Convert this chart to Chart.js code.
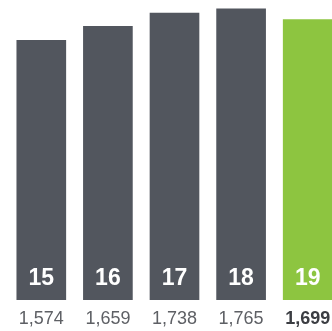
<!DOCTYPE html>
<html>
<head>
<meta charset="utf-8">
<script src="https://cdn.jsdelivr.net/npm/chart.js@4"></script>
<style>
  html, body { margin: 0; padding: 0; background: #fff; overflow: hidden; }
  #wrap { width: 341px; height: 331px; }
</style>
</head>
<body>
<div id="wrap"><canvas id="c" width="341" height="331"></canvas></div>
<script>
// Fiscal years and the value for each year
const years = ['15', '16', '17', '18', '19'];
const values = [1574, 1659, 1738, 1765, 1699];
const barColors = ['#52565e', '#52565e', '#52565e', '#52565e', '#8dc540'];

const fmt = v => v.toLocaleString('en-US');

// Draws the year inside the foot of each bar and the value beneath it
const labelPlugin = {
  id: 'barLabels',
  afterDatasetsDraw(chart) {
    const ctx = chart.ctx;
    const meta = chart.getDatasetMeta(0);
    const base = chart.scales.y.getPixelForValue(0);
    ctx.save();
    ctx.textAlign = 'center';
    ctx.textBaseline = 'middle';
    meta.data.forEach((bar, i) => {
      ctx.fillStyle = '#ffffff';
      ctx.font = 'bold 23px "Liberation Sans", Arial, sans-serif';
      ctx.fillText(years[i], bar.x, base - 21);
      const last = i === values.length - 1;
      ctx.fillStyle = last ? '#3b3d42' : '#5e6065';
      ctx.font = (last ? 'bold ' : '') + '18px "Liberation Sans", Arial, sans-serif';
      ctx.fillText(fmt(values[i]), bar.x, base + 19);
    });
    ctx.restore();
  }
};

new Chart(document.getElementById('c'), {
  type: 'bar',
  data: {
    labels: years,
    datasets: [{
      data: values,
      backgroundColor: barColors,
      borderWidth: 0,
      barThickness: 49
    }]
  },
  options: {
    responsive: false,
    animation: false,
    layout: { padding: { left: 8, right: 0, top: 0, bottom: 31 } },
    plugins: { legend: { display: false }, tooltip: { enabled: false } },
    scales: {
      x: { display: false },
      y: { display: false, min: 0, max: 1818 }
    }
  },
  plugins: [labelPlugin]
});
</script>
</body>
</html>
